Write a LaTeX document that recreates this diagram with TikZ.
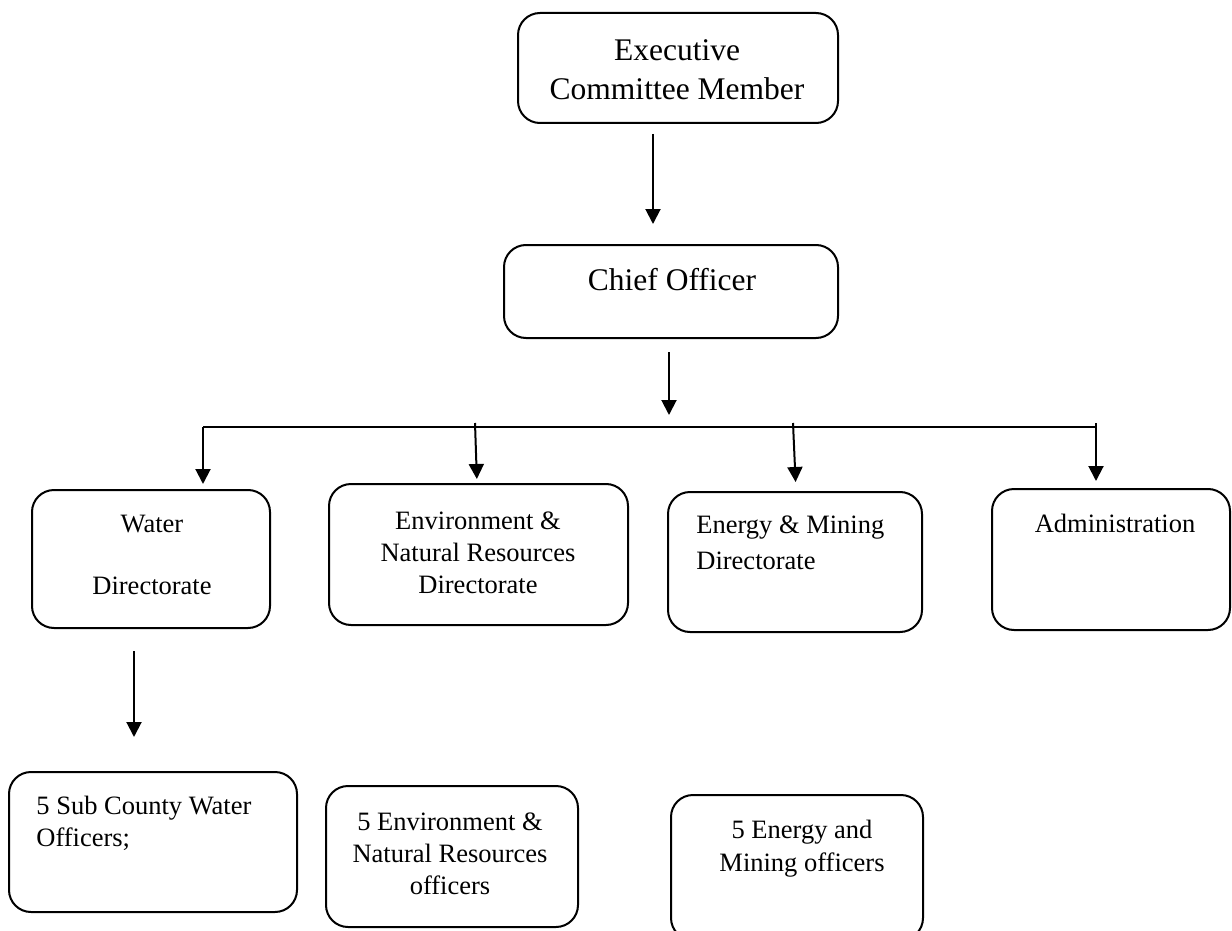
\documentclass[tikz,border=0pt]{standalone}
\usepackage{fontspec}
\setmainfont{Liberation Serif}
\usetikzlibrary{arrows.meta}

\tikzset{
  box/.style={draw, line width=1pt, rounded corners=11pt, inner sep=0pt},
  bigtext/.style={font=\fontsize{15.75}{20}\selectfont, align=center, inner sep=0pt},
  smalltext/.style={font=\fontsize{13.25}{16}\selectfont, align=center, inner sep=0pt},
  arrow/.style={line width=1pt, -{Triangle[length=7.5pt,width=7.5pt]}},
}

\begin{document}
\begin{tikzpicture}[x=0.5pt,y=-0.5pt]
		\clip (0,0) rectangle (1232,931);

		% draw boxes
		\node[box, minimum width=160pt, minimum height=55pt] (exec) at (678,68) {};
		\node[box, minimum width=167pt, minimum height=46.5pt] (chief) at (671,291.5) {};
		\node[box, minimum width=119pt, minimum height=69pt] (water) at (151,559) {};
		\node[box, minimum width=149.5pt, minimum height=70.5pt] (env) at (478.5,554.5) {};
		\node[box, minimum width=127pt, minimum height=70pt] (energy) at (795,562) {};
		\node[box, minimum width=119pt, minimum height=70.5pt] (admin) at (1111,559.5) {};
		\node[box, minimum width=144pt, minimum height=70pt] (subwater) at (153,842) {};
		\node[box, minimum width=126pt, minimum height=70.5pt] (subenv) at (452,856.5) {};
		\node[box, minimum width=126pt, minimum height=72.5pt] (subenergy) at (797,867.5) {};

		% draw texts (base = last line)
		\node[bigtext, anchor=base] (exectext) at (677,100) {Executive\\Committee Member};
		\node[bigtext, anchor=base] (chieftext) at (672,290) {Chief Officer};
		\node[smalltext, anchor=base, font=\fontsize{13.25}{31}\selectfont] (watertext) at (152,594) {Water\\Directorate};
		\node[smalltext, anchor=base] (envtext) at (478,593) {Environment \&\\Natural Resources\\Directorate};
		\node[smalltext, anchor=base west, align=left, font=\fontsize{13.25}{18}\selectfont] (energytext) at (696,569) {Energy \& Mining\\Directorate};
		\node[smalltext, anchor=base] (admintext) at (1115,532) {Administration};
		\node[smalltext, anchor=base west, align=left] (subwatertext) at (36,846) {5 Sub County Water\\Officers;};
		\node[smalltext, anchor=base] (subenvtext) at (450,894) {5 Environment \&\\Natural Resources\\officers};
		\node[smalltext, anchor=base, font=\fontsize{13.25}{16.5}\selectfont] (subenergytext) at (802,871) {5 Energy and\\Mining officers};

		% draw bus line
		\coordinate (busl) at (203,427);
		\coordinate (busr) at (1096,427);
		\draw[line width=1pt] (busl) -- (busr);

		% draw arrows
		\draw[arrow, shorten <=5pt, shorten >=10pt] ([xshift=-12.5pt]exec.south) -- ([xshift=-12.5pt]exec.south |- chief.north);
		\draw[arrow, shorten <=6.5pt, shorten >=6pt] ([xshift=-1pt]chief.south) -- ([xshift=-1pt]chief.south |- busl);
		\draw[arrow, shorten >=2.5pt] (busl) -- (busl |- water.north);
		\foreach \n/\a/\b/\s in {env/475/477/2pt, energy/793/796/4.5pt, admin/1096/1096/3.5pt}
		\draw[arrow, shorten >=\s] ([yshift=2pt]busl -| \a,0) -- (\n.north -| \b,0);
		\draw[arrow, shorten <=11pt, shorten >=17pt] ([xshift=-8.5pt]water.south) -- ([xshift=-8.5pt]water.south |- subwater.north);
\end{tikzpicture}
\end{document}
